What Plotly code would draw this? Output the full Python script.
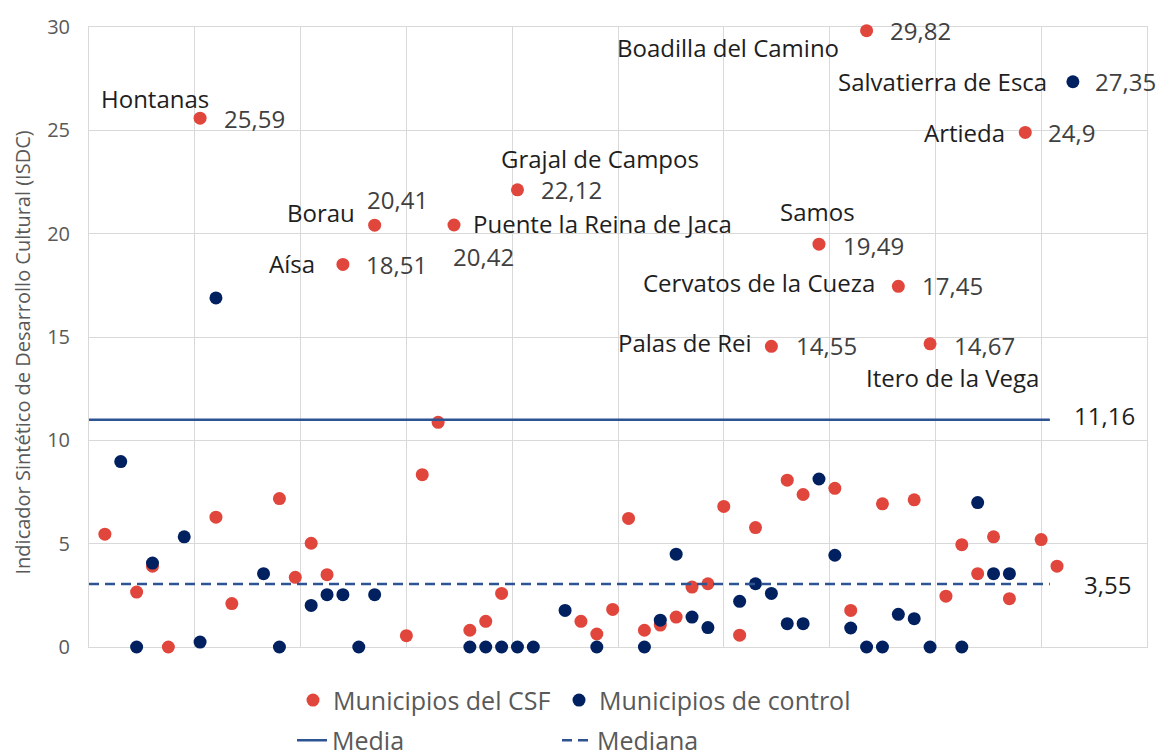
import plotly.graph_objects as go

# ---------------- data ----------------
csf_x = [1, 3, 4, 5, 7, 8, 9, 12, 13, 14, 15, 16, 18, 20, 21, 22, 23, 24, 25, 26, 27,
         31, 32, 33, 34, 35, 36, 37, 38, 39, 40, 41, 42, 43, 44, 45, 46, 47, 48, 49,
         50, 51, 52, 53, 54, 55, 56, 57, 58, 59, 60, 61]
csf_y = [5.46, 2.66, 3.91, 0, 25.59, 6.28, 2.10, 7.18, 3.37, 5.02, 3.50, 18.51, 20.41,
         0.55, 8.34, 10.87, 20.42, 0.81, 1.24, 2.59, 22.12,
         1.24, 0.63, 1.82, 6.22, 0.81, 1.06, 1.45, 2.90, 3.06, 6.80, 0.57, 5.78, 14.55,
         8.07, 7.38, 19.49, 7.68, 1.77, 29.82,
         6.93, 17.45, 7.12, 14.67, 2.46, 4.95, 3.55, 5.33, 2.34, 24.9, 5.20, 3.91]

ctrl_x = [2, 3, 4, 6, 7, 8, 11, 12, 14, 15, 16, 17, 18, 24, 25, 26, 27, 28, 30, 32, 35,
          36, 37, 38, 39, 41, 42, 43, 44, 45, 46, 47, 48, 49, 50, 51, 52, 53, 55, 56,
          57, 58, 62]
ctrl_y = [8.97, 0, 4.06, 5.33, 0.24, 16.89, 3.55, 0, 2.01, 2.53, 2.53, 0, 2.53, 0, 0,
          0, 0, 0, 1.77, 0, 0,
          1.30, 4.49, 1.45, 0.94, 2.21, 3.06, 2.59, 1.13, 1.13, 8.13, 4.44, 0.92, 0, 0,
          1.58, 1.37, 0, 0, 6.99,
          3.55, 3.55, 27.35]

# labelled municipalities: (series, x index, name, value text)
lab_series = ["csf", "csf", "csf", "csf", "csf", "csf", "csf", "csf", "csf", "csf", "csf", "ctrl"]
lab_x = [7, 18, 16, 23, 27, 49, 59, 46, 51, 43, 53, 62]
lab_name = ["Hontanas", "Borau", "Aísa", "Puente la Reina de Jaca", "Grajal de Campos",
            "Boadilla del Camino", "Artieda", "Samos", "Cervatos de la Cueza",
            "Palas de Rei", "Itero de la Vega", "Salvatierra de Esca"]
lab_value = ["25,59", "20,41", "18,51", "20,42", "22,12", "29,82", "24,9", "19,49",
             "17,45", "14,55", "14,67", "27,35"]

# reference lines
line_x = [0, 60.55]
media_y = 11.0
mediana_y = 3.05
media_label = "11,16"
mediana_label = "3,55"

series_names = ["Municipios del CSF", "Municipios de control", "Media", "Mediana"]
y_title = "Indicador Sintético de Desarrollo Cultural (ISDC)"

# ---------------- styles ----------------
RED = "#E0463C"
NAVY = "#002060"
LINE = "#2E5393"
GRID = "#D9D9D9"
FONT = "Open Sans"
LAB = 24
PLOT_L, PLOT_W = 89, 1058

# label placement (xanchor, xshift, yshift) for name and value, in px
name_pos = {
    "Hontanas": ("center", -45, 20),
    "Borau": ("right", -18, 13),
    "Aísa": ("right", -26, 1),
    "Puente la Reina de Jaca": ("left", 17, 1),
    "Grajal de Campos": ("left", -18, 31),
    "Boadilla del Camino": ("right", -26, -17),
    "Artieda": ("right", -18, 0),
    "Samos": ("left", -41, 33),
    "Cervatos de la Cueza": ("right", -21, 4),
    "Palas de Rei": ("right", -17, 4),
    "Itero de la Vega": ("left", -66, -34),
    "Salvatierra de Esca": ("right", -24, 0),
}
value_pos = {
    "Hontanas": (22, 0),
    "Borau": (-10, 26),
    "Aísa": (21, 0),
    "Puente la Reina de Jaca": (-3, -32),
    "Grajal de Campos": (22, 0),
    "Boadilla del Camino": (21, 0),
    "Artieda": (21, 0),
    "Samos": (22, -1),
    "Cervatos de la Cueza": (22, 1),
    "Palas de Rei": (23, 1),
    "Itero de la Vega": (22, -2),
    "Salvatierra de Esca": (20, 0),
}

fig = go.Figure()

fig.add_trace(go.Scatter(x=csf_x, y=csf_y, mode="markers", name=series_names[0],
                         marker=dict(color=RED, size=13), cliponaxis=False,
                         legend="legend"))
fig.add_trace(go.Scatter(x=ctrl_x, y=ctrl_y, mode="markers", name=series_names[1],
                         marker=dict(color=NAVY, size=13), cliponaxis=False,
                         legend="legend2"))
fig.add_trace(go.Scatter(x=line_x, y=[media_y, media_y], mode="lines", name=series_names[2],
                         line=dict(color=LINE, width=2.5), legend="legend3"))
fig.add_trace(go.Scatter(x=line_x, y=[mediana_y, mediana_y], mode="lines", name=series_names[3],
                         line=dict(color=LINE, width=2.5, dash="10px,6px"), legend="legend4"))

annotations = []
for s, xi, nm, val in zip(lab_series, lab_x, lab_name, lab_value):
    if s == "csf":
        yv = csf_y[csf_x.index(xi)]
    else:
        yv = ctrl_y[ctrl_x.index(xi)]
    xa, xs, ys = name_pos[nm]
    annotations.append(dict(x=xi, y=yv, xref="x", yref="y", text=nm, showarrow=False,
                            xanchor=xa, yanchor="middle", xshift=xs, yshift=ys,
                            font=dict(family=FONT, size=LAB, color="#1E1E1E")))
    vxs, vys = value_pos[nm]
    annotations.append(dict(x=xi, y=yv, xref="x", yref="y", text=val, showarrow=False,
                            xanchor="left", yanchor="middle", xshift=vxs, yshift=vys,
                            font=dict(family=FONT, size=LAB, color="#404040")))

annotations.append(dict(x=line_x[1], y=media_y, xref="x", yref="y", text=media_label,
                        showarrow=False, xanchor="left", yanchor="middle", xshift=22, yshift=4,
                        font=dict(family=FONT, size=LAB, color="#1E1E1E")))
annotations.append(dict(x=line_x[1], y=mediana_y, xref="x", yref="y", text=mediana_label,
                        showarrow=False, xanchor="left", yanchor="middle", xshift=32, yshift=-1,
                        font=dict(family=FONT, size=LAB, color="#1E1E1E")))

# y-axis title as rotated annotation
annotations.append(dict(x=-0.0624, y=0.475, xref="paper", yref="paper", text=y_title,
                        showarrow=False, textangle=-90, xanchor="center", yanchor="middle",
                        font=dict(family=FONT, size=20, color="#595959")))


def leg(px, y):
    return dict(orientation="h", x=(px - PLOT_L) / PLOT_W, xanchor="left", y=y,
                yanchor="middle", font=dict(family=FONT, size=25, color="#595959"),
                bgcolor="rgba(0,0,0,0)")


fig.update_layout(
    width=1158, height=756,
    margin=dict(l=PLOT_L, r=11, t=27, b=109, autoexpand=False),
    paper_bgcolor="white", plot_bgcolor="white",
    font=dict(family=FONT, size=20, color="#595959"),
    annotations=annotations,
    showlegend=True,
    legend=leg(293, -0.086),
    legend2=leg(559, -0.086),
    legend3=leg(292, -0.151),
    legend4=leg(557, -0.151),
)

fig.update_xaxes(range=[0, 66.67], tick0=0, dtick=6.667, showticklabels=False,
                 showgrid=True, gridcolor=GRID, gridwidth=1, zeroline=False,
                 showline=True, linecolor=GRID, linewidth=1, mirror=True,
                 ticks="", layer="below traces", automargin=False)
fig.update_yaxes(range=[0, 30], dtick=5, showgrid=True, gridcolor=GRID, gridwidth=1,
                 zeroline=False, showline=True, linecolor=GRID, linewidth=1, mirror=True,
                 ticks="", ticklabelstandoff=14, layer="below traces", automargin=False,
                 tickfont=dict(family=FONT, size=20, color="#595959"))

fig.write_html("out.html", config={"displayModeBar": False},
               post_script="document.body.style.margin='0px';document.body.style.overflow='hidden';")
